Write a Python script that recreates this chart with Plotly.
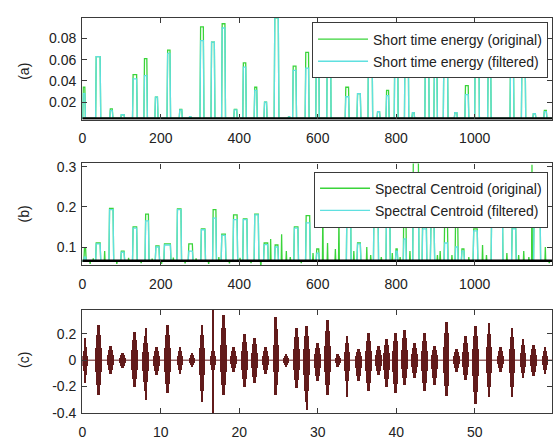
import plotly.graph_objects as go

# ---------------- (a) short time energy: peaks ----------------
energy_start = [1, 34, 70, 98, 128, 157, 185, 216, 247, 272, 300, 328, 355, 386, 409, 438, 463, 489,
                524, 536, 568, 595, 623, 670, 700, 728, 751, 774, 795, 821, 840, 873, 896, 920, 948,
                975, 1000, 1033, 1090, 1119, 1148, 1176]
energy_end = [8, 47, 78, 108, 140, 166, 193, 225, 255, 278, 310, 338, 365, 395, 418, 446, 471, 501,
              530, 546, 578, 604, 634, 680, 710, 740, 759, 782, 805, 832, 847, 884, 905, 932, 956,
              985, 1012, 1042, 1100, 1130, 1156, 1184]
energy_filtered = [0.028, 0.063, 0.012, 0.008, 0.042, 0.045, 0.0246, 0.066, 0.0125, 0.0063, 0.078,
                   0.0766, 0.090, 0.0127, 0.053, 0.031, 0.020, 0.0995, 0.006, 0.050, 0.052, 0.060,
                   0.085, 0.025, 0.028, 0.080, 0.011, 0.026, 0.060, 0.088, 0.010, 0.075, 0.050,
                   0.070, 0.010, 0.027, 0.090, 0.065, 0.060, 0.070, 0.009, 0.011]
energy_original = [0.034, 0.063, 0.0135, 0.008, 0.046, 0.061, 0.0246, 0.069, 0.013, 0.0063, 0.091,
                   0.0766, 0.094, 0.013, 0.057, 0.034, 0.020, 0.0995, 0.006, 0.054, 0.067, 0.075,
                   0.085, 0.034, 0.028, 0.080, 0.011, 0.031, 0.085, 0.088, 0.010, 0.075, 0.070,
                   0.070, 0.010, 0.0355, 0.090, 0.065, 0.075, 0.070, 0.009, 0.012]
energy_base = 0.0045
energy_threshold = 0.0045

# ---------------- (b) spectral centroid ----------------
centroid_start = [4, 34, 68, 98, 128, 160, 186, 208, 241, 270, 302, 332, 354, 384, 409, 438, 462, 490,
                  539, 569, 596, 673, 700, 742, 774, 798, 818, 842, 866, 887, 922, 950, 966, 996,
                  1042, 1094, 1150]
centroid_end = [10, 47, 80, 108, 140, 170, 197, 226, 253, 282, 314, 342, 366, 396, 421, 450, 474, 500,
                551, 581, 604, 685, 710, 755, 785, 804, 826, 858, 878, 898, 932, 958, 974, 1008,
                1072, 1106, 1168]
centroid_filtered = [0.075, 0.108, 0.193, 0.087, 0.147, 0.165, 0.100, 0.105, 0.193, 0.090, 0.143,
                     0.172, 0.129, 0.168, 0.168, 0.180, 0.106, 0.100, 0.147, 0.160, 0.085, 0.220,
                     0.108, 0.230, 0.210, 0.090, 0.120, 0.240, 0.145, 0.159, 0.110, 0.100, 0.090,
                     0.140, 0.220, 0.145, 0.220]
centroid_original = [0.096, 0.110, 0.196, 0.090, 0.150, 0.182, 0.103, 0.108, 0.195, 0.108, 0.145,
                     0.193, 0.132, 0.180, 0.170, 0.182, 0.110, 0.105, 0.150, 0.178, 0.095, 0.230,
                     0.110, 0.235, 0.215, 0.095, 0.220, 0.310, 0.200, 0.160, 0.170, 0.190, 0.095,
                     0.145, 0.225, 0.148, 0.225]
centroid_spike_frames = [20, 28, 57, 88, 118, 150, 178, 202, 232, 262, 290, 322, 348, 375, 402, 430,
                         455, 480, 508, 520, 530, 558, 588, 613, 625, 645, 654, 692, 725, 735, 762,
                         790, 810, 835, 905, 912, 942, 985, 1020, 1030, 1082, 1112, 1125, 1138,
                         1146, 1180, 1190]
centroid_spike_values = [0.058, 0.072, 0.090, 0.058, 0.073, 0.060, 0.071, 0.058, 0.074, 0.059, 0.072,
                         0.058, 0.075, 0.059, 0.073, 0.060, 0.048, 0.120, 0.132, 0.090, 0.075, 0.060,
                         0.085, 0.200, 0.110, 0.095, 0.180, 0.090, 0.100, 0.080, 0.075, 0.085, 0.075,
                         0.090, 0.080, 0.090, 0.080, 0.075, 0.105, 0.080, 0.085, 0.080, 0.090, 0.075,
                         0.305, 0.100, 0.060]
centroid_base = 0.066
centroid_orig_base = 0.065
centroid_threshold = 0.066

# ---------------- (c) waveform bursts (time s, max, min) ----------------
burst_time = [0.4, 2.1, 3.6, 5.2, 6.7, 8.1, 9.5, 10.9, 12.5, 14.0, 15.3, 16.7, 18.0, 19.3, 20.7, 22.0,
              23.4, 24.7, 26.0, 27.3, 28.6, 30.0, 31.3, 32.6, 33.75, 35.2, 36.5, 37.75, 38.8, 39.9,
              41.1, 42.4, 43.65, 44.9, 46.4, 47.7, 48.9, 50.1, 51.85, 53.3, 54.8, 56.2, 57.5, 59.0]
burst_max = [0.10, 0.27, 0.11, 0.055, 0.22, 0.19, 0.10, 0.27, 0.10, 0.055, 0.27, 0.10, 0.346, 0.10,
             0.20, 0.17, 0.10, 0.333, 0.05, 0.247, 0.26, 0.136, 0.31, 0.05, 0.185, 0.09, 0.21, 0.11,
             0.16, 0.21, 0.235, 0.136, 0.21, 0.11, 0.296, 0.09, 0.185, 0.26, 0.284, 0.10, 0.247,
             0.16, 0.12, 0.10]
burst_min = [-0.11, -0.26, -0.10, -0.055, -0.20, -0.23, -0.11, -0.25, -0.10, -0.05, -0.32, -0.10,
             -0.26, -0.085, -0.20, -0.17, -0.10, -0.26, -0.05, -0.21, -0.32, -0.16, -0.26, -0.05,
             -0.22, -0.16, -0.235, -0.11, -0.20, -0.25, -0.185, -0.136, -0.235, -0.185, -0.27,
             -0.085, -0.15, -0.33, -0.28, -0.085, -0.28, -0.136, -0.12, -0.10]
spike_time = [0.35, 8.1, 16.67, 28.66, 33.75]
spike_max = [0.175, 0.25, 0.385, 0.26, 0.185]
spike_min = [-0.17, -0.30, -0.405, -0.38, -0.28]

GREEN = "#3ad43a"
CYAN = "#5fe0e0"
WAVE = "#621b1b"
AX = "#3a3a3a"
FONT = "Liberation Sans, Arial, sans-serif"


def build_line(starts, ends, heights, base, xmax, spike_x=(), spike_y=()):
    items = []
    for s, e, h in zip(starts, ends, heights):
        items.append((s, [(s, base), (s + 1.5, h), (e - 1.5, h), (e, base)]))
    for f, v in zip(spike_x, spike_y):
        items.append((f - 1, [(f - 1, base), (f, v), (f + 1, base)]))
    items.sort(key=lambda it: it[0])
    xs, ys = [0], [base]
    for _, pts in items:
        for px, py in pts:
            xs.append(px)
            ys.append(py)
    xs.append(xmax)
    ys.append(base)
    return xs, ys


XMAX = 1197
fig = go.Figure()

# (a)
xo, yo = build_line(energy_start, energy_end, energy_original, energy_base, XMAX)
xf, yf = build_line(energy_start, energy_end, energy_filtered, energy_base, XMAX)
fig.add_trace(go.Scatter(x=xo, y=yo, mode="lines", line=dict(color=GREEN, width=1.3),
                         name="Short time energy (original)", xaxis="x", yaxis="y",
                         legend="legend", legendgroup="a1"))
fig.add_trace(go.Scatter(x=xf, y=yf, mode="lines", line=dict(color=CYAN, width=1.3),
                         name="Short time energy (filtered)", xaxis="x", yaxis="y",
                         legend="legend", legendgroup="a2"))
fig.add_trace(go.Scatter(x=[0, XMAX], y=[energy_threshold, energy_threshold], mode="lines",
                         line=dict(color="black", width=2.5), showlegend=False, xaxis="x", yaxis="y"))

# (b)
xo, yo = build_line(centroid_start, centroid_end, centroid_original, centroid_orig_base, XMAX,
                    centroid_spike_frames, centroid_spike_values)
xf, yf = build_line(centroid_start, centroid_end, centroid_filtered, centroid_base, XMAX)
fig.add_trace(go.Scatter(x=xo, y=yo, mode="lines", line=dict(color=GREEN, width=1.3),
                         name="Spectral Centroid (original)", xaxis="x2", yaxis="y2",
                         legend="legend2", legendgroup="b1"))
fig.add_trace(go.Scatter(x=xf, y=yf, mode="lines", line=dict(color=CYAN, width=1.3),
                         name="Spectral Centroid (filtered)", xaxis="x2", yaxis="y2",
                         legend="legend2", legendgroup="b2"))
fig.add_trace(go.Scatter(x=[0, XMAX], y=[centroid_threshold, centroid_threshold], mode="lines",
                         line=dict(color="black", width=2.5), showlegend=False, xaxis="x2", yaxis="y2"))

# (c)
fig.add_trace(go.Scatter(x=[0, 59.85], y=[0, 0], mode="lines", line=dict(color=WAVE, width=1),
                         showlegend=False, xaxis="x3", yaxis="y3"))
fig.add_trace(go.Bar(x=burst_time, y=[0.35 * (t - b) for t, b in zip(burst_max, burst_min)],
                     base=[0.35 * b for b in burst_min], width=0.85, marker=dict(color=WAVE, line=dict(width=0)),
                     showlegend=False, xaxis="x3", yaxis="y3"))
fig.add_trace(go.Bar(x=burst_time, y=[0.72 * (t - b) for t, b in zip(burst_max, burst_min)],
                     base=[0.72 * b for b in burst_min], width=0.6, marker=dict(color=WAVE, line=dict(width=0)),
                     showlegend=False, xaxis="x3", yaxis="y3"))
fig.add_trace(go.Bar(x=burst_time, y=[t - b for t, b in zip(burst_max, burst_min)],
                     base=burst_min, width=0.35, marker=dict(color=WAVE, line=dict(width=0)),
                     showlegend=False, xaxis="x3", yaxis="y3"))
fig.add_trace(go.Bar(x=spike_time, y=[t - b for t, b in zip(spike_max, spike_min)],
                     base=spike_min, width=0.14, marker=dict(color=WAVE, line=dict(width=0)),
                     showlegend=False, xaxis="x3", yaxis="y3"))

W, H = 553, 440
xdom = [79 / W, 1.0]


def ydom(top, bottom):
    return [(H - bottom) / H, (H - top) / H]


axis_common = dict(showline=True, linecolor=AX, linewidth=1.3, mirror="ticks", ticks="inside",
                   ticklen=5, tickcolor=AX, showgrid=False, zeroline=False,
                   tickfont=dict(family=FONT, size=14, color="#222"))
xaxis_extra = dict(ticklabelstandoff=6)
yaxis_extra = dict(ticklabelstandoff=2)

leg_common = dict(xanchor="right", yanchor="top", bgcolor="white", bordercolor=AX, borderwidth=1,
                  font=dict(family=FONT, size=14, color="#222"), tracegroupgap=1, itemwidth=50)

fig.update_layout(
    width=W, height=H, margin=dict(l=0, r=0, t=0, b=0),
    paper_bgcolor="white", plot_bgcolor="white", barmode="overlay", bargap=0,
    font=dict(family=FONT, size=14, color="#222"),
    xaxis=dict(domain=xdom, anchor="y", range=[0, XMAX], tickvals=[0, 200, 400, 600, 800, 1000, 1200],
               **axis_common, **xaxis_extra),
    yaxis=dict(domain=ydom(13, 118), anchor="x", range=[0.0035, 0.0998],
               tickvals=[0.02, 0.04, 0.06, 0.08], ticktext=["0.02", "0.04", "0.06", "0.08"],
               **axis_common, **yaxis_extra),
    xaxis2=dict(domain=xdom, anchor="y2", range=[0, XMAX], tickvals=[0, 200, 400, 600, 800, 1000, 1200],
                **axis_common, **xaxis_extra),
    yaxis2=dict(domain=ydom(163.3, 268), anchor="x2", range=[0.055, 0.308],
                tickvals=[0.1, 0.2, 0.3], ticktext=["0.1", "0.2", "0.3"], **axis_common, **yaxis_extra),
    xaxis3=dict(domain=xdom, anchor="y3", range=[0, 59.85], tickvals=[0, 10, 20, 30, 40, 50],
                **axis_common, **xaxis_extra),
    yaxis3=dict(domain=ydom(314, 420.7), anchor="x3", range=[-0.405, 0.385],
                tickvals=[-0.4, -0.2, 0, 0.2], ticktext=["-0.4", "-0.2", "0", "0.2"],
                **axis_common, **yaxis_extra),
    legend=dict(x=549 / W, y=(H - 18) / H, **leg_common),
    legend2=dict(x=549 / W, y=(H - 171.7) / H, **leg_common),
    annotations=[
        dict(text="(a)", x=20 / W, y=(H - 68) / H, xref="paper", yref="paper", showarrow=False,
             xanchor="center", yanchor="middle", textangle=-90, font=dict(family=FONT, size=14, color="#222")),
        dict(text="(b)", x=20 / W, y=(H - 215) / H, xref="paper", yref="paper", showarrow=False,
             xanchor="center", yanchor="middle", textangle=-90, font=dict(family=FONT, size=14, color="#222")),
        dict(text="(c)", x=20 / W, y=(H - 366) / H, xref="paper", yref="paper", showarrow=False,
             xanchor="center", yanchor="middle", textangle=-90, font=dict(family=FONT, size=14, color="#222")),
    ],
)

fig.write_html("out.html", config={"displayModeBar": False},
               post_script="document.body.style.margin='0px';document.body.style.padding='0px';"
                           "document.documentElement.style.overflow='hidden';")
